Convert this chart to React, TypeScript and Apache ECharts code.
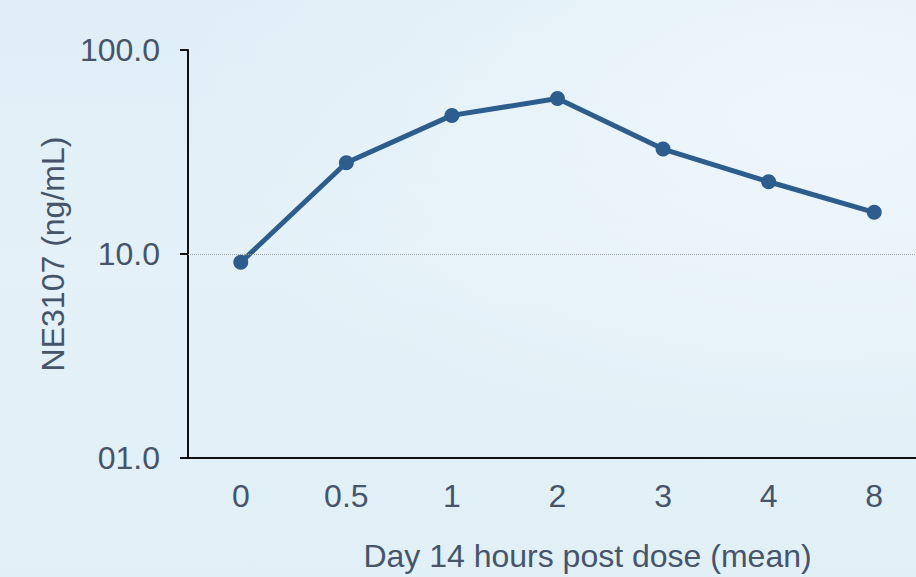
import React, { useEffect, useRef } from "react";
import * as echarts from "echarts";

const categories = ["0", "0.5", "1", "2", "3", "4", "8"];
const meanValues = [9.1, 28, 47.8, 57.8, 32.7, 22.6, 16.0];
const referenceLine = 10;

const TEXT = "#46556a";
const FONT = "Liberation Sans, Arial, sans-serif";

export default function App() {
  const ref = useRef<HTMLDivElement>(null);
  useEffect(() => {
    if (!ref.current) return;
    const chart = echarts.init(ref.current, undefined, { renderer: "svg" });
    chart.setOption({
      animation: false,
      textStyle: { fontFamily: FONT },
      grid: { left: 188, top: 50, height: 412, width: 739, containLabel: false },
      xAxis: {
        type: "category",
        data: categories,
        boundaryGap: true,
        axisLine: { lineStyle: { color: "#111", width: 2 } },
        axisTick: { show: false },
        axisLabel: { color: TEXT, fontSize: 32, margin: 22, fontFamily: FONT },
        name: "Day 14 hours post dose (mean)",
        nameLocation: "middle",
        nameGap: 82,
        nameTextStyle: { color: TEXT, fontSize: 32, fontFamily: FONT, padding: [0, 0, 0, 60] },
      },
      yAxis: {
        type: "log",
        logBase: 10,
        min: 1,
        max: 100,
        axisLine: { show: true, lineStyle: { color: "#111", width: 2 } },
        axisTick: { show: true, length: 8, lineStyle: { color: "#111", width: 2 } },
        splitLine: { show: false },
        axisLabel: {
          color: TEXT,
          fontSize: 32,
          margin: 28,
          fontFamily: FONT,
          formatter: (v: number) => (Math.abs(v - 1) < 1e-9 ? "01.0" : v.toFixed(1)),
        },
        name: "NE3107 (ng/mL)",
        nameLocation: "middle",
        nameGap: 114,
        nameRotate: 90,
        nameTextStyle: { color: TEXT, fontSize: 32, fontFamily: FONT },
      },
      series: [
        {
          type: "line",
          data: meanValues,
          symbol: "circle",
          symbolSize: 15,
          lineStyle: { color: "#2c5d8c", width: 5 },
          itemStyle: { color: "#2c5d8c" },
          markLine: {
            silent: true,
            symbol: "none",
            label: { show: false },
            lineStyle: { color: "#9aa3ab", type: "dotted", width: 1 },
            data: [{ yAxis: referenceLine }],
          },
        },
      ],
    });
    return () => chart.dispose();
  }, []);
  return (
    <div
      style={{
        position: "fixed",
        left: 0,
        top: 0,
        width: 916,
        height: 577,
        overflow: "hidden",
        background:
          "radial-gradient(ellipse at 90% 20%, #eef6fb 0%, rgba(238,246,251,0) 55%), linear-gradient(180deg, #dfeef7 0%, #e4f1f8 45%, #e1eff7 100%)",
      }}
    >
      <div ref={ref} style={{ width: 927, height: 577 }} />
    </div>
  );
}
